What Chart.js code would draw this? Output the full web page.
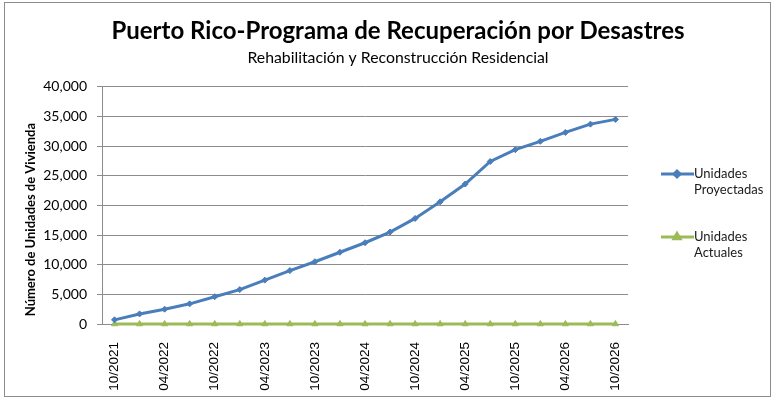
<!DOCTYPE html>
<html>
<head>
<meta charset="utf-8">
<script src="https://cdn.jsdelivr.net/npm/chart.js@4"></script>
<style>
  html, body { margin: 0; padding: 0; background: #fff; }
  #wrap { width: 777px; height: 400px; }
</style>
</head>
<body>
<div id="wrap"><canvas id="recuperacionChart" width="777" height="400"></canvas></div>
<script>
const trimestres = [
    '10/2021', '01/2022', '04/2022', '07/2022', '10/2022', '01/2023', '04/2023',
    '07/2023', '10/2023', '01/2024', '04/2024', '07/2024', '10/2024', '01/2025',
    '04/2025', '07/2025', '10/2025', '01/2026', '04/2026', '07/2026', '10/2026'
];
const unidadesProyectadas = [
    700, 1700, 2500, 3400, 4600, 5800, 7400, 9000, 10500, 12100, 13700,
    15500, 17800, 20600, 23600, 27400, 29400, 30800, 32300, 33700, 34500
];
const unidadesActuales = [
    0, 0, 0, 0, 0, 0, 0, 0, 0, 0, 0, 0, 0, 0, 0, 0, 0, 0, 0, 0, 0
];
const nombresSeries = [['Unidades', 'Proyectadas'], ['Unidades', 'Actuales']];

const fuente = "Lato, 'Open Sans', sans-serif";

// fondo blanco y marco gris alrededor del gráfico
const marco = {
    id: 'marco',
    beforeDraw(chart) {
        const ctx = chart.ctx;
        ctx.save();
        ctx.fillStyle = '#fff';
        ctx.fillRect(0, 0, chart.width, chart.height);
        ctx.strokeStyle = '#8c8c8c';
        ctx.lineWidth = 1;
        ctx.strokeRect(4.5, 2.5, 766, 394);
        ctx.restore();
    }
};

// leyenda con texto en dos líneas, como en el original
const leyenda = {
    id: 'leyenda',
    afterDraw(chart) {
        const ctx = chart.ctx;
        const filas = [174, 237];
        ctx.save();
        chart.data.datasets.forEach((ds, i) => {
            const y = filas[i];
            ctx.strokeStyle = ds.borderColor;
            ctx.lineWidth = ds.borderWidth;
            ctx.beginPath();
            ctx.moveTo(661, y);
            ctx.lineTo(694, y);
            ctx.stroke();
            Chart.helpers.drawPoint(ctx, {
                pointStyle: ds.pointStyle,
                radius: ds.pointRadius,
                rotation: 0,
                borderWidth: 1
            }, 677, y);
            ctx.fillStyle = ds.borderColor;
            ctx.fill();
            ctx.fillStyle = '#1a1a1a';
            ctx.font = '13px ' + fuente;
            ctx.textBaseline = 'middle';
            ctx.textAlign = 'left';
            nombresSeries[i].forEach((linea, j) => {
                ctx.fillText(linea, 694, y + j * 16);
            });
        });
        ctx.restore();
    }
};

new Chart(document.getElementById('recuperacionChart'), {
    type: 'line',
    data: {
        labels: trimestres,
        datasets: [{
            label: nombresSeries[0].join(' '),
            data: unidadesProyectadas,
            borderColor: '#4A7EBB',
            backgroundColor: '#4A7EBB',
            borderWidth: 3,
            pointStyle: 'rectRot',
            pointRadius: 3,
            pointBorderWidth: 1,
            tension: 0,
            clip: false
        }, {
            label: nombresSeries[1].join(' '),
            data: unidadesActuales,
            borderColor: '#9BBB59',
            backgroundColor: '#9BBB59',
            borderWidth: 3,
            pointStyle: 'triangle',
            pointRadius: 3.5,
            pointBorderWidth: 1,
            tension: 0,
            clip: false
        }]
    },
    options: {
        responsive: false,
        animation: false,
        layout: { padding: { top: 8, left: 19, right: 0, bottom: 0 } },
        plugins: {
            legend: { display: false },
            tooltip: { enabled: false },
            title: {
                display: true,
                text: 'Puerto Rico-Programa de Recuperación por Desastres',
                color: '#000',
                font: { family: fuente, size: 24, weight: 'bold' },
                padding: { top: 9, bottom: 3 }
            },
            subtitle: {
                display: true,
                text: 'Rehabilitación y Reconstrucción Residencial',
                color: '#000',
                font: { family: fuente, size: 15.8 },
                padding: { top: 0, bottom: 19 }
            }
        },
        scales: {
            x: {
                offset: true,
                grid: { display: false },
                border: { display: true, color: '#8c8c8c' },
                ticks: {
                    autoSkip: false,
                    minRotation: 90,
                    maxRotation: 90,
                    padding: 10,
                    color: '#000',
                    font: { family: "'Liberation Sans', Arial, sans-serif", size: 13.5 },
                    callback: (v, i) => (i % 2 === 0 ? trimestres[i] : '')
                },
                afterFit: s => { s.height = 76; }
            },
            y: {
                min: 0,
                max: 40000,
                ticks: {
                    stepSize: 5000,
                    padding: 10,
                    color: '#000',
                    font: { family: fuente, size: 14 },
                    callback: v => v.toLocaleString('en-US')
                },
                grid: { color: '#8c8c8c', tickLength: 5 },
                border: { color: '#8c8c8c' },
                title: {
                    display: true,
                    // espacios finales para bajar el título como en el original
                    text: 'Número de Unidades de Vivienda         ',
                    color: '#000',
                    font: { family: fuente, size: 13, weight: 'bold' }
                },
                afterFit: s => { s.width = 83; }
            },
            yR: {
                type: 'linear',
                position: 'right',
                display: true,
                grid: { display: false, drawTicks: false },
                border: { display: false },
                ticks: { display: false },
                afterFit: s => { s.width = 149; }
            }
        }
    },
    plugins: [marco, leyenda]
});
</script>
</body>
</html>
